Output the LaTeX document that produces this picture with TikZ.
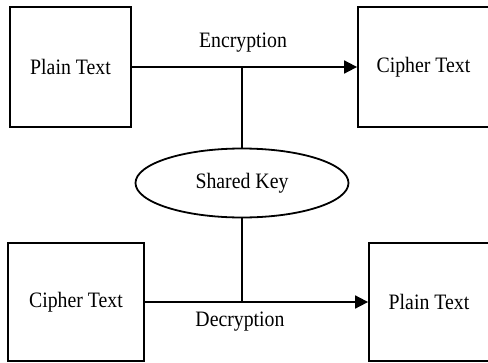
\documentclass[tikz,border=0pt]{standalone}
\usepackage{fontspec}
\setmainfont[FakeStretch=0.9]{Liberation Serif}
\usetikzlibrary{shapes.geometric,arrows.meta}
\begin{document}
\begin{tikzpicture}[x=1pt,y=-1pt, line width=1.8pt,
  txt/.style={font=\fontsize{22}{26}\selectfont},
  box/.style={draw, rectangle, inner sep=0pt, txt},
  keyshape/.style={draw, ellipse, inner sep=0pt, minimum width=213pt, minimum height=69pt, txt},
  lbl/.style={inner sep=0pt, txt},
  arr/.style={-{Triangle[length=13pt,width=13pt]}}]
\useasboundingbox (0,0) rectangle (488,362);
\clip (0,0) rectangle (488,362);
\node[box, minimum width=121pt, minimum height=120pt] (pt1) at (70.5,67) {Plain Text};
\node[box, minimum width=131pt, minimum height=120pt] (ct1) at (423.5,67) {Cipher Text};
\node[keyshape] (key) at (242,183) {Shared Key};
\node[box, minimum width=136pt, minimum height=118pt] (ct2) at (76,302) {Cipher Text};
\node[box, minimum width=120pt, minimum height=118pt] (pt2) at (429,302) {Plain Text};
\node[lbl] (enc) at (243,43) {Encryption};
\node[lbl] (dec) at (240,322) {Decryption};
\draw[arr] (pt1.east) -- (ct1.west);
\draw (key.north) -- (key.north |- pt1.east);
\draw (key.south) -- (key.south |- ct2.east);
\draw[arr] (ct2.east) -- (pt2.west);
\end{tikzpicture}
\end{document}
